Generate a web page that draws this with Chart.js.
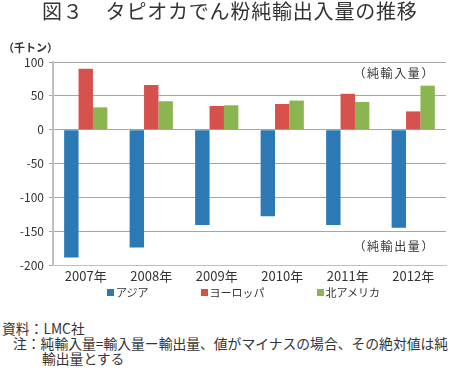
<!DOCTYPE html>
<html>
<head>
<meta charset="utf-8">
<script src="https://cdn.jsdelivr.net/npm/chart.js@4.4.1/dist/chart.umd.min.js"></script>
<style>
  body { margin: 0; background: #fff; font-family: "Noto Sans CJK JP", sans-serif; color: #333; }
  #page { position: relative; width: 450px; height: 371px; overflow: hidden; }
  #title { position: absolute; top: -4px; left: 42px; font-size: 20px; letter-spacing: 0.8px; color: #333; white-space: nowrap; }
  #title .fig { margin-right: 22px; }
  #unit { position: absolute; top: 39px; left: 3px; font-size: 11px; font-weight: bold; color: #333; }
  #chartBox { position: absolute; top: 0; left: 0; width: 450px; height: 285px; }
  #legend { position: absolute; top: 284px; left: 107px; display: flex; gap: 52px; font-size: 11px; color: #333; }
  #legend .item { display: flex; align-items: center; }
  #legend .box { width: 7px; height: 7px; margin-right: 2px; }
  #notes { position: absolute; top: 321px; left: 2px; font-size: 13.8px; line-height: 14.8px; color: #333; white-space: nowrap; }
  #notes .indent { padding-left: 11px; }
  #notes .cont { padding-left: 40px; }
</style>
</head>
<body>
<div id="page">
  <div id="chartBox"><canvas id="netTradeChart"></canvas></div>
  <div id="title"><span class="fig">図３</span>タピオカでん粉純輸出入量の推移</div>
  <div id="unit">（千トン）</div>
  <div id="legend"></div>
  <div id="notes">
    <div>資料：LMC社</div>
    <div class="indent">注：純輸入量=輸入量ー輸出量、値がマイナスの場合、その絶対値は純</div>
    <div class="cont">輸出量とする</div>
  </div>
</div>
<script>
// データ（千トン）
const years = ["2007年", "2008年", "2009年", "2010年", "2011年", "2012年"];
const asia = [-189, -174, -141, -128, -141, -145];
const europe = [90, 66, 35, 38, 53, 27];
const northAmerica = [33, 42, 36, 43, 41, 65];
const yTicks = [100, 50, 0, -50, -100, -150, -200];
const seriesNames = ["アジア", "ヨーロッパ", "北アメリカ"];
const noteTexts = ["（純輸入量）", "（純輸出量）"];

const colors = ["#2b79b5", "#d6504c", "#8bb551"];
const FONT = '"Noto Sans CJK JP", sans-serif';

// 注記（純輸入量／純輸出量）
const sideNotes = {
  id: "sideNotes",
  afterDatasetsDraw(chart) {
    const { ctx, chartArea, scales } = chart;
    const yPos = [83, -173]; // 値軸上の位置
    ctx.save();
    ctx.font = "12px " + FONT;
    ctx.letterSpacing = "1.6px";
    ctx.fillStyle = "#333";
    ctx.textAlign = "right";
    ctx.textBaseline = "middle";
    noteTexts.forEach((t, i) => {
      ctx.fillText(t, chartArea.right - 11, scales.y.getPixelForValue(yPos[i]));
    });
    ctx.restore();
  }
};

const chart = new Chart(document.getElementById("netTradeChart"), {
  type: "bar",
  data: {
    labels: years,
    datasets: [asia, europe, northAmerica].map((d, i) => ({
      label: seriesNames[i],
      data: d,
      backgroundColor: colors[i],
      borderWidth: 0,
      categoryPercentage: 0.66,
      barPercentage: 1.0
    }))
  },
  options: {
    responsive: true,
    maintainAspectRatio: false,
    animation: false,
    layout: { padding: { top: 62, right: 4, left: 0, bottom: 0 } },
    plugins: {
      legend: { display: false },
      tooltip: { enabled: false }
    },
    scales: {
      x: {
        grid: { display: false, drawTicks: false },
        border: { color: "#bfbfbf", width: 1 },
        ticks: { font: { family: FONT, size: 13 }, color: "#333", padding: 3, maxRotation: 0 },
        afterFit: (s) => { s.height = 20; }
      },
      y: {
        min: -200,
        max: 100,
        afterBuildTicks: (s) => { s.ticks = yTicks.map(v => ({ value: v })); },
        ticks: { font: { family: FONT, size: 12 }, color: "#333", padding: 5 },
        grid: { color: "#a6a6a6", lineWidth: 1, tickLength: 4 },
        border: { color: "#bfbfbf", width: 2 },
        afterFit: (s) => { s.width = 53; }
      }
    }
  },
  plugins: [sideNotes]
});

// 凡例（HTML）
const legendEl = document.getElementById("legend");
chart.data.datasets.forEach((ds) => {
  const item = document.createElement("div");
  item.className = "item";
  item.innerHTML = `<span class="box" style="background:${ds.backgroundColor}"></span><span>${ds.label}</span>`;
  legendEl.appendChild(item);
});
</script>
</body>
</html>
